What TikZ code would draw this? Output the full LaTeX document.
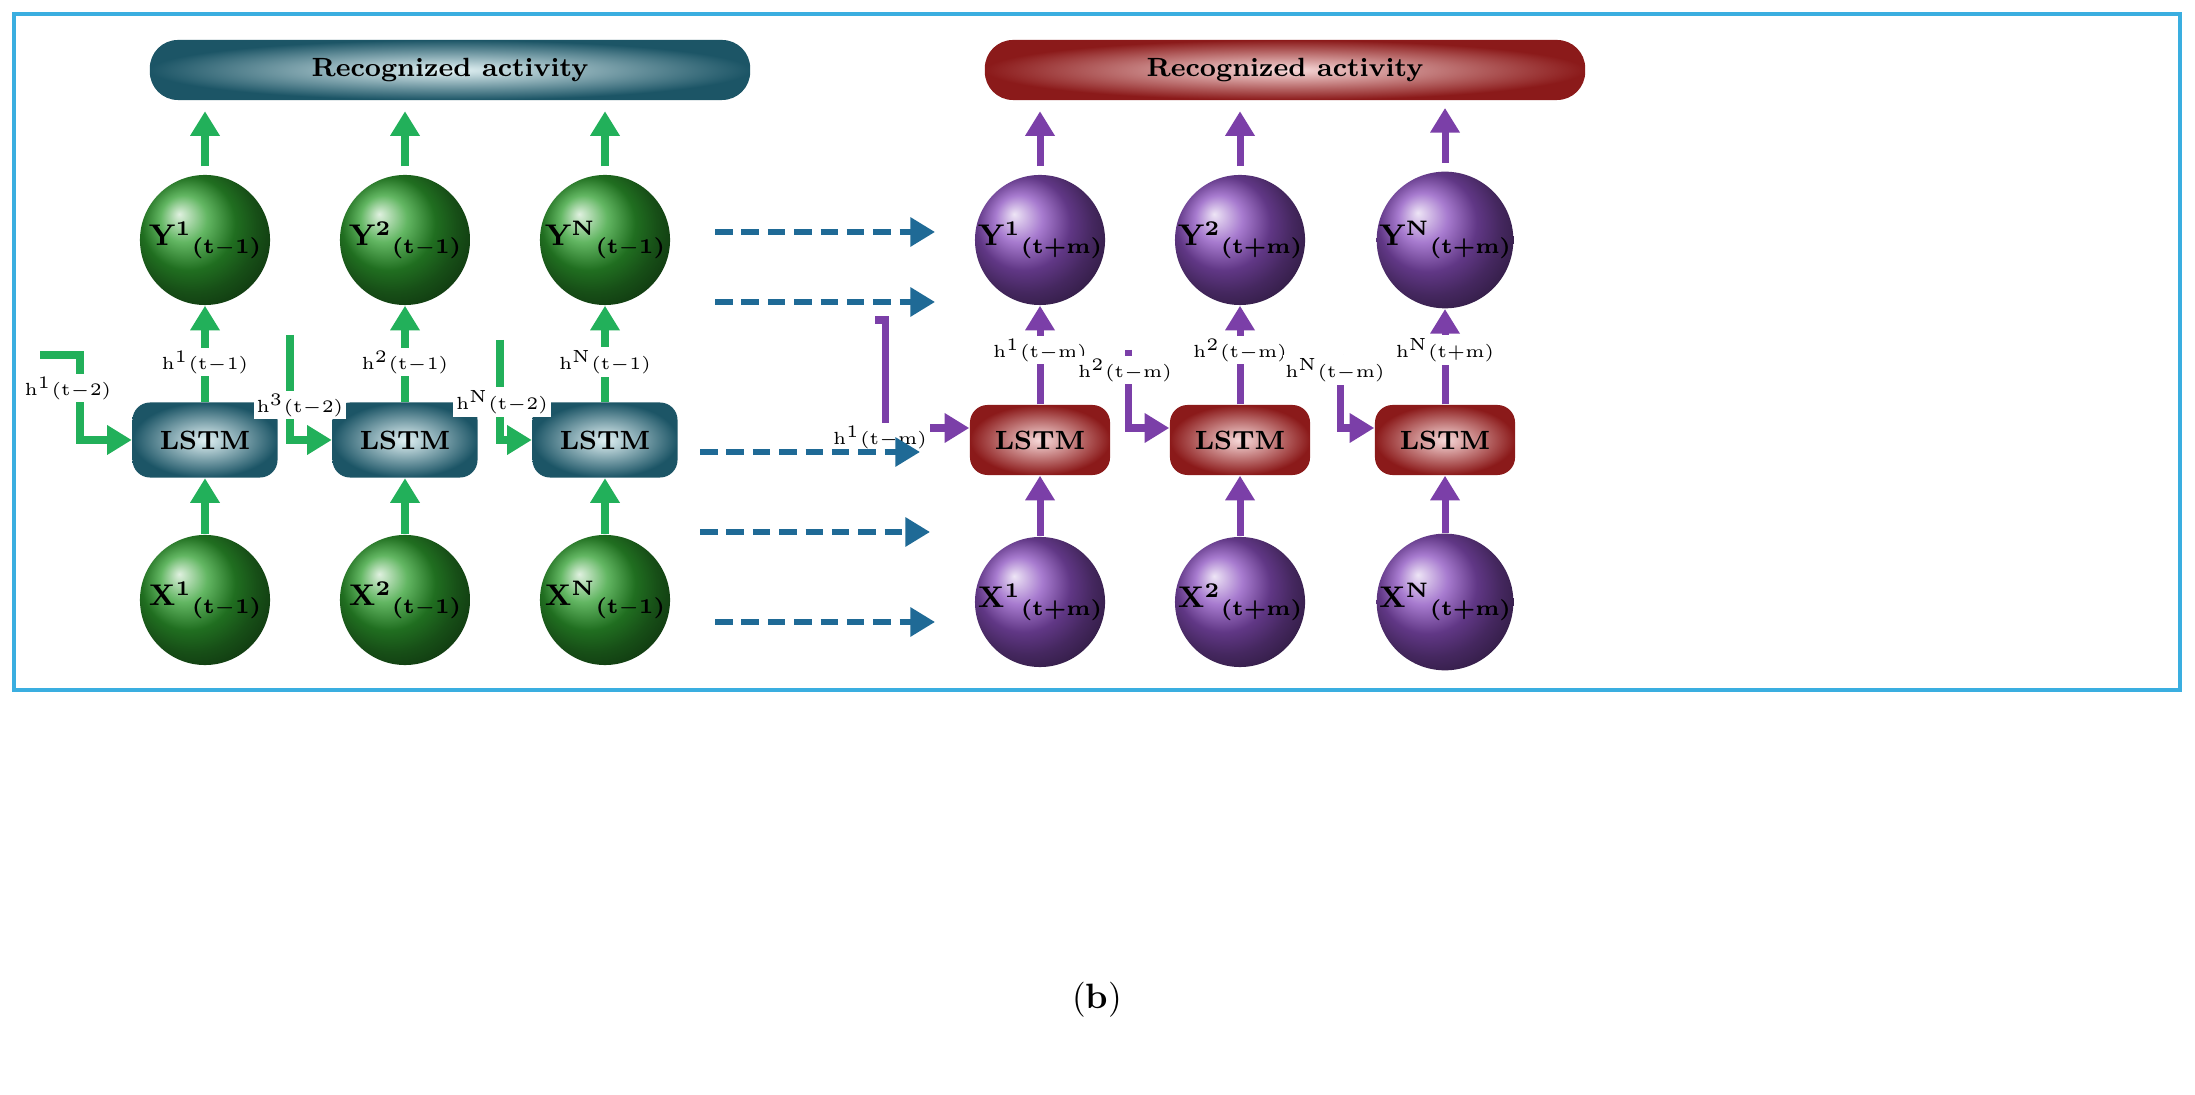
\documentclass[tikz,border=0pt]{standalone}
\usetikzlibrary{arrows.meta,shapes.geometric}
\begin{document}
\begin{tikzpicture}[x=0.01cm,y=-0.01cm,
  ga/.style={draw=arrG,line width=2pt,-{Triangle[length=7pt,width=8pt]}},
  pa/.style={draw=arrP,line width=2pt,-{Triangle[length=7pt,width=8pt]}},
  da/.style={draw=dashC,line width=1.6pt,dash pattern=on 5pt off 2.5pt,-{Triangle[length=7pt,width=8pt]}},
  gball/.style={circle,minimum size=1.3cm,inner sep=0,ball color=ballG,font=\bfseries\fontsize{8.5}{10}\selectfont},
  pball/.style={circle,minimum size=1.3cm,inner sep=0,ball color=ballP,font=\bfseries\fontsize{8.5}{10}\selectfont},
  lstmL/.style={rounded corners=5pt,minimum width=1.45cm,minimum height=0.75cm,inner color=tealL,outer color=tealD,font=\bfseries\fontsize{7.5}{9}\selectfont},
  lstmR/.style={rounded corners=5pt,minimum width=1.4cm,minimum height=0.7cm,inner color=redL,outer color=redD,font=\bfseries\fontsize{7.5}{9}\selectfont},
  lab/.style={font=\fontsize{5}{6}\selectfont,fill=white,inner sep=0.8pt},
  ban/.style={rounded corners=8pt,minimum width=6cm,minimum height=0.6cm,font=\bfseries\fontsize{7.5}{9}\selectfont}]
\definecolor{arrG}{HTML}{22B05A}
\definecolor{arrP}{HTML}{7B3FA8}
\definecolor{dashC}{HTML}{1F6A96}
\definecolor{ballG}{HTML}{2E9E2E}
\definecolor{ballP}{HTML}{8A4FBF}
\definecolor{tealL}{HTML}{E2F2F4}
\definecolor{tealD}{HTML}{1C5566}
\definecolor{redL}{HTML}{F8DADA}
\definecolor{redD}{HTML}{8B1A1A}
\definecolor{frameC}{HTML}{3AAEE0}
\newcommand{\bsub}[1]{\raisebox{-0.6ex}{\fontsize{6}{7}\selectfont #1}}
\newcommand{\hs}[1]{\textsuperscript{#1}}
\useasboundingbox[fill=white] (0,0) rectangle (2195,1095);
\draw[frameC,line width=1.3pt] (14,14) rectangle (2180,690);
\node[ban,inner color=tealL,outer color=tealD] (bl) at (450,70) {Recognized activity};
\node[ban,inner color=redL,outer color=redD] (br) at (1285,70) {Recognized activity};
% left
\foreach \i/\x/\s in {1/205/1,2/405/2,3/605/N}{
  \node[gball] (y\i) at (\x,240) {Y\textsuperscript{\s}\bsub{(t$-$1)}};
  \node[gball] (x\i) at (\x,600) {X\textsuperscript{\s}\bsub{(t$-$1)}};
  \node[lstmL] (l\i) at (\x,440) {LSTM};
  \draw[ga] (y\i.north) ++(0,-8) -- ++(0,-55);
  \draw[ga] (l\i.north) -- (y\i.south);
  \draw[ga] (x\i.north) -- (l\i.south);
  \node[lab] at (\x,362) {h\hs{\s}(t$-$1)};
}
\coordinate (s1) at (40,355); \coordinate (s2) at (290,335); \coordinate (s3) at (500,340);
\draw[ga] (s1) -| (80,440) -- (l1.west);
\draw[ga] (s2) |- (l2.west);
\draw[ga] (s3) |- (l3.west);
\node[lab] at (68,388) {h\hs{1}(t$-$2)};
\node[lab] at (300,405) {h\hs{3}(t$-$2)};
\node[lab] at (502,402) {h\hs{N}(t$-$2)};
% right
\foreach \i/\x/\s/\p in {1/1040/1/$-$,2/1240/2/$-$,3/1445/N/+}{
  \node[pball] (Y\i) at (\x,240) {Y\textsuperscript{\s}\bsub{(t+m)}};
  \node[pball] (X\i) at (\x,602) {X\textsuperscript{\s}\bsub{(t+m)}};
  \node[lstmR] (L\i) at (\x,440) {LSTM};
  \draw[pa] (Y\i.north) ++(0,-8) -- ++(0,-55);
  \draw[pa] (L\i.north) -- (Y\i.south);
  \draw[pa] (X\i.north) -- (L\i.south);
  \node[lab] at (\x,350) {h\hs{\s}(t\p m)};
}
\coordinate (r1) at (875,320); \coordinate (r2) at (1128,350); \coordinate (r3) at (1340,355);
\draw[pa] (r1) -- (885,320) -- (885,428) -- (L1.west |- 0,428);
\draw[pa] (r2) |- (L2.west |- 0,428);
\draw[pa] (r3) |- (L3.west |- 0,428);
\node[lab] at (880,437) {h\hs{1}(t$-$m)};
\node[lab] at (1125,370) {h\hs{2}(t$-$m)};
\node[lab] at (1335,370) {h\hs{N}(t$-$m)};
% dashed
\foreach \y/\a/\b [count=\k] in {232/715/935,302/715/935,452/700/920,532/700/930,622/715/935}{
  \coordinate (da\k) at (\a,\y); \coordinate (db\k) at (\b,\y);
  \draw[da] (da\k) -- (db\k);
}
\node[font=\fontsize{10}{12}\selectfont] (cap) at (1097,1000) {(\textbf{b})};
\end{tikzpicture}
\end{document}
